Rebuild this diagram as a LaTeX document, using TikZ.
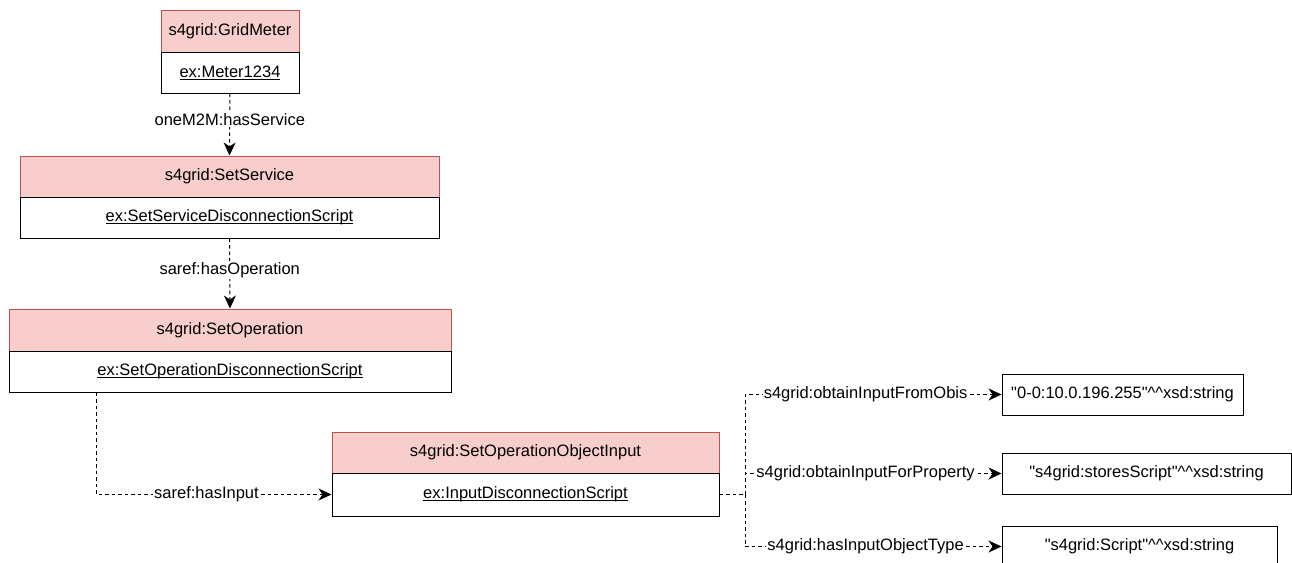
\documentclass[tikz,border=0pt]{standalone}
\usepackage{fontspec}
\setmainfont{Liberation Sans}
\newfontfamily\plainsans{Liberation Sans}
\usetikzlibrary{arrows.meta}
\definecolor{hdrfill}{HTML}{F8CECC}
\definecolor{hdrline}{HTML}{B85450}
\newcommand\uln[1]{\setbox0\hbox{#1}\rlap{\rule[-2.5pt]{\wd0}{1pt}}\box0}
\begin{document}
\begin{tikzpicture}[x=1pt,y=-1pt,
  txt/.style={font=\plainsans\fontsize{16.5pt}{19pt}\selectfont},
  hdr/.style={txt,draw=hdrline,fill=hdrfill,line width=1pt,inner sep=0pt},
  inst/.style={txt,draw=black,fill=white,line width=1pt,inner sep=0pt},
  valbox/.style={txt,draw=black,fill=white,line width=1pt,inner sep=0pt},
  edge/.style={draw=black,line width=1pt,dash pattern=on 3.5pt off 3pt,-{Stealth[length=13pt,width=12pt,inset=4pt]}},
  plain/.style={draw=black,line width=1pt,dash pattern=on 3.5pt off 3pt},
  lbl/.style={txt,fill=white,inner sep=1pt}]
\useasboundingbox (0,0) rectangle (1292,562);

% GridMeter
\node[hdr,minimum width=138pt,minimum height=42pt] (gmH) at (230,31) {s4grid:GridMeter};
\node[inst,minimum width=138pt,minimum height=41pt] (gmB) at (230,72.5) {\uln{ex:Meter1234}};

% SetService
\node[hdr,minimum width=419pt,minimum height=41pt] (ssH) at (229.5,176.5) {s4grid:SetService};
\node[inst,minimum width=419pt,minimum height=41pt] (ssB) at (229.5,217.5) {\uln{ex:SetServiceDisconnectionScript}};

% SetOperation
\node[hdr,minimum width=442pt,minimum height=42pt] (soH) at (230,330) {s4grid:SetOperation};
\node[inst,minimum width=442pt,minimum height=41pt] (soB) at (230,371.5) {\uln{ex:SetOperationDisconnectionScript}};

% SetOperationObjectInput
\node[hdr,minimum width=387pt,minimum height=41pt] (ioH) at (525.5,452.5) {s4grid:SetOperationObjectInput};
\node[inst,minimum width=387pt,minimum height=43pt] (ioB) at (525.5,494.5) {\uln{ex:InputDisconnectionScript}};

% Values
\node[valbox,minimum width=241pt,minimum height=41pt] (v1) at (1122.5,394.5) {"0-0:10.0.196.255"\^{}\^{}xsd:string};
\node[valbox,minimum width=289pt,minimum height=41pt] (v2) at (1146.5,473.5) {"s4grid:storesScript"\^{}\^{}xsd:string};
\node[valbox,minimum width=275pt,minimum height=41pt] (v3) at (1139.5,546.5) {"s4grid:Script"\^{}\^{}xsd:string};

% Edges
\draw[edge] (gmB.south) -- node[lbl,pos=0.42] {oneM2M:hasService} (ssH.north);
\draw[edge] (ssB.south) -- node[lbl,pos=0.45] {saref:hasOperation} (soH.north);
\draw[edge] ([xshift=88pt]soB.south west) |- node[lbl,pos=0.734] {saref:hasInput} (ioB.west);

\coordinate (bus) at (745,494.5);
\draw[plain] (ioB.east) -- (bus);
\draw[edge] (bus) |- node[lbl,pos=0.735] {s4grid:obtainInputFromObis} (v1.west);
\draw[edge] (bus) |- node[lbl,pos=0.735] {s4grid:obtainInputForProperty} (v2.west);
\draw[edge] (bus) |- node[lbl,pos=0.735] {s4grid:hasInputObjectType} (v3.west);
\end{tikzpicture}
\end{document}
